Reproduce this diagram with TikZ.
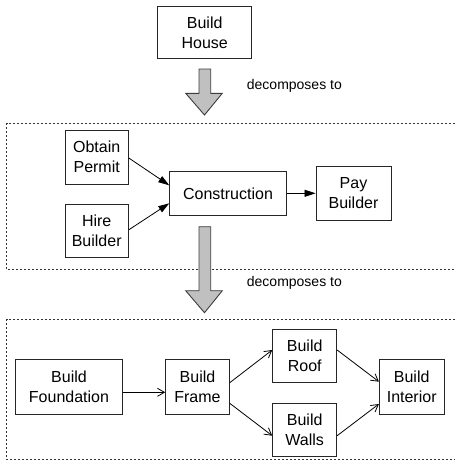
\documentclass[tikz,border=0pt]{standalone}
\usepackage{fontspec}
\setmainfont{Liberation Sans}
\usetikzlibrary{arrows.meta}
\definecolor{bigarrowfill}{RGB}{192,192,192}
\definecolor{bigarrowline}{RGB}{60,60,60}
\tikzset{
  task/.style={draw=black!85, line width=0.9pt, inner sep=0pt, align=center,
    font=\fontsize{16}{20}\selectfont},
  lbl/.style={anchor=west, inner sep=0pt, font=\fontsize{14}{17}\selectfont},
  solidflow/.style={line width=0.8pt, -{Triangle[length=11pt,width=7pt]}},
  openflow/.style={line width=0.8pt, -{Straight Barb[length=7pt,width=8pt,line width=0.8pt]}},
  group/.style={line width=0.9pt, dash pattern=on 2pt off 2pt, draw=black!80},
  bigarrow/.style={fill=bigarrowfill, draw=bigarrowline, line width=0.9pt, line join=miter}
}
\begin{document}
\begin{tikzpicture}[x=1pt,y=-1pt]
\useasboundingbox (0,0) rectangle (455,469);

% groups (open on the right, cut by the picture edge)
\draw[group] (455,123.3) -- (6.7,123.3) -- (6.7,269.3) -- (455,269.3);
\draw[group] (455,319) -- (6.7,319) -- (6.7,459) -- (455,459);

% top
\node[task, minimum width=94pt, minimum height=51.6pt] (house) at (204.7,32.5) {Build\\House};

% middle level
\node[task, minimum width=63.3pt, minimum height=54pt] (permit) at (96.7,157) {Obtain\\Permit};
\node[task, minimum width=63.3pt, minimum height=53.7pt] (hire) at (96.7,230.8) {Hire\\Builder};
\node[task, minimum width=116.6pt, minimum height=43.3pt] (constr) at (228,193.3) {Construction};
\node[task, minimum width=75pt, minimum height=53.3pt] (pay) at (353.5,193.3) {Pay\\Builder};

\draw[solidflow] ([yshift=-1pt]permit.east) -- ([yshift=8pt]constr.west);
\draw[solidflow] ([yshift=1pt]hire.east) -- ([yshift=-10pt]constr.west);
\draw[solidflow] (constr.east) -- (pay.west);

% bottom level
\node[task, minimum width=106.6pt, minimum height=54.7pt] (found) at (69,386.7) {Build\\Foundation};
\node[task, minimum width=63.6pt, minimum height=54.7pt] (frame) at (197.5,386.7) {Build\\Frame};
\node[task, minimum width=64pt, minimum height=53.7pt] (roof) at (304.7,355.8) {Build\\Roof};
\node[task, minimum width=64pt, minimum height=53.4pt] (walls) at (304.7,430) {Build\\Walls};
\node[task, minimum width=64.7pt, minimum height=54.7pt] (inter) at (411.7,386.7) {Build\\Interior};

\draw[openflow] ([yshift=-5.6pt]found.east) -- ([yshift=-5.6pt]frame.west);
\draw[openflow] ([yshift=4pt]frame.east) -- ([yshift=5.8pt]roof.west);
\draw[openflow] ([yshift=-16.6pt]frame.east) -- ([yshift=-5.7pt]walls.west);
\draw[openflow] ([yshift=5.8pt]roof.east) -- ([yshift=5pt]inter.west);
\draw[openflow] ([yshift=-5.7pt]walls.east) -- ([yshift=-17.3pt]inter.west);

% decomposition arrows
\draw[bigarrow] (199,69) -- (210.7,69) -- (210.7,93.3) -- (222.3,93.3) -- (204.5,115)
  -- (185.7,93.3) -- (199,93.3) -- cycle;
\node[lbl] (dec1) at (246.7,86) {decomposes to};
\draw[bigarrow] (199,226.7) -- (210.7,226.7) -- (210.7,290.7) -- (222.3,290.7) -- (204.5,312.7)
  -- (185.7,290.7) -- (199,290.7) -- cycle;
\node[lbl] (dec2) at (246.7,283.3) {decomposes to};
\end{tikzpicture}
\end{document}
